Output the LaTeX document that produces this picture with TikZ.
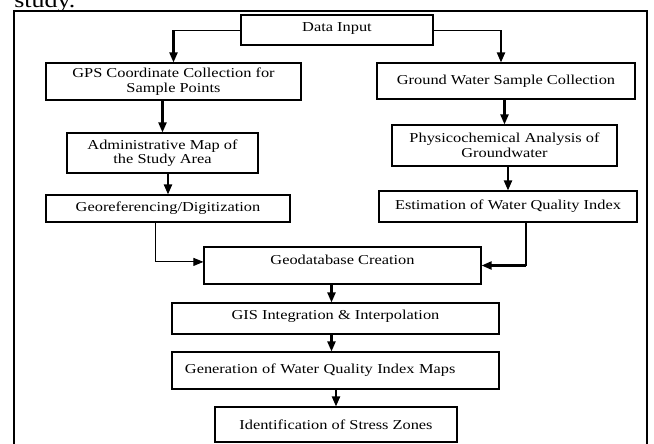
\documentclass[tikz,border=0pt]{standalone}
\usepackage{fontspec}
\setmainfont{Liberation Serif}[FakeStretch=1.2]
\usetikzlibrary{arrows.meta}
\begin{document}
\begin{tikzpicture}[x=0.025cm,y=-0.025cm,
  font=\fontsize{9.7pt}{10.3pt}\selectfont,
  box/.style={draw,line width=0.8pt,align=center,inner sep=1pt},
  arr/.style={line width=1.5pt,-{Triangle[length=0.25cm,width=0.2cm]}},
  thinarr/.style={line width=0.6pt,-{Triangle[length=0.25cm,width=0.2cm]}},
  lift/.style={text depth=#1}]
  \clip (0,0) rectangle (654,443);
  \node[anchor=base west,inner sep=0pt,font=\fontsize{15.4pt}{18pt}\selectfont] (cap) at (14,7.5) {study.};
  \draw[line width=1.1pt] (14,11) rectangle (647,460);
  % boxes
  \node[box,minimum width=4.8cm,minimum height=0.75cm,lift=4.5pt] (input) at (337,30) {Data Input};
  \node[box,minimum width=6.375cm,minimum height=0.925cm] (gps) at (173.5,81.5) {GPS Coordinate Collection for\\Sample Points};
  \node[box,minimum width=6.45cm,minimum height=0.9cm] (ground) at (506,81) {Ground Water Sample Collection};
  \node[box,minimum width=4.775cm,minimum height=1cm] (admin) at (162.5,153) {Administrative Map of\\the Study Area};
  \node[box,minimum width=5.625cm,minimum height=1.025cm] (phys) at (504.5,145.5) {Physicochemical Analysis of\\Groundwater};
  \node[box,minimum width=6.1cm,minimum height=0.675cm] (georef) at (168,208.5) {Georeferencing/Digitization};
  \node[box,minimum width=6.45cm,minimum height=0.775cm] (estim) at (508,206.5) {Estimation of Water Quality Index};
  \node[box,minimum width=6.925cm,minimum height=0.925cm,lift=8pt] (geodb) at (342.5,265.5) {Geodatabase Creation};
  \node[box,minimum width=8.175cm,minimum height=0.775cm,lift=5.2pt] (gis) at (335.5,318.5) {GIS Integration \& Interpolation};
  \node[box,text width=7.525cm,align=left,inner xsep=0.325cm,minimum height=0.925cm] (gen) at (335.5,370.5) {Generation of Water Quality Index Maps};
  \node[box,minimum width=6.05cm,minimum height=0.875cm] (ident) at (336,424.5) {Identification of Stress Zones};
  % connectors
  \coordinate (lc) at (gps.north |- input.west);
  \coordinate (rc) at ([xshift=-0.125cm]ground.north |- input.east);
  \draw[line width=0.6pt] (input.west) -- (lc);
  \draw[arr] (lc) -- (gps.north);
  \draw[line width=0.6pt] (input.east) -- (rc);
  \draw[arr] (rc) -- (rc |- ground.north);
  \draw[arr] (gps.south -| admin.north) -- (admin.north);
  \draw[arr] (admin.south -| georef.north) -- (georef.north);
  \draw[arr] (ground.south -| phys.north) -- (phys.north);
  \draw[arr] (phys.south -| estim.north) -- (estim.north);
  \draw[thinarr] ([xshift=-0.325cm]georef.south) |- ([yshift=0.09cm]geodb.west);
  \coordinate (ec) at ([xshift=0.45cm]estim.south |- geodb.east);
  \draw[line width=0.8pt] ([xshift=0.45cm]estim.south) -- (ec);
  \draw[arr] (ec) -- (geodb.east);
  \draw[arr] ([xshift=-0.1cm]gis.north |- geodb.south) -- ([xshift=-0.1cm]gis.north);
  \draw[arr] ([xshift=-0.1cm]gen.north |- gis.south) -- ([xshift=-0.1cm]gen.north);
  \draw[arr] (gen.south -| ident.north) -- (ident.north);
\end{tikzpicture}
\end{document}
